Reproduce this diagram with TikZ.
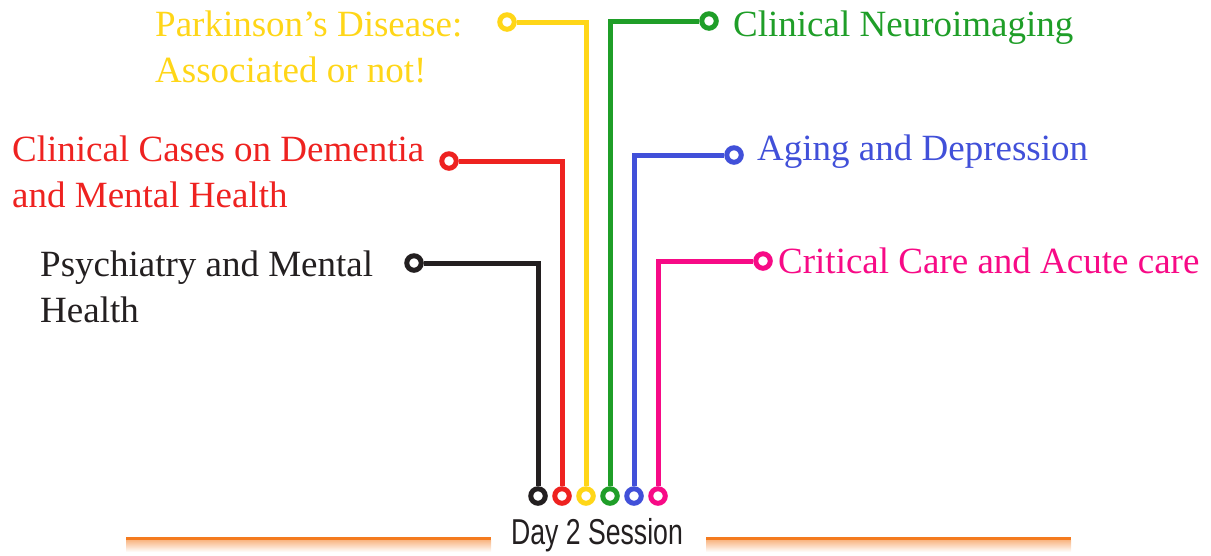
\documentclass[tikz,border=0pt]{standalone}
\usepackage{fontspec}
\setmainfont{Liberation Serif}
\newfontfamily\daysans{Liberation Sans}
\usetikzlibrary{positioning}
\definecolor{tkblack}{HTML}{231F20}
\definecolor{tkred}{HTML}{EE2220}
\definecolor{tkyellow}{HTML}{FFD618}
\definecolor{tkgreen}{HTML}{1F9E28}
\definecolor{tkblue}{HTML}{4150D9}
\definecolor{tkpink}{HTML}{F70A86}
\definecolor{barorange}{HTML}{F47A1E}
\tikzset{
  ring/.style={circle,draw=#1,fill=white,line width=5pt,minimum size=14.5pt,inner sep=0pt},
  wire/.style={draw=#1,line width=5pt},
  topic/.style={text=#1,align=left,anchor=base west,inner sep=0pt,font=\fontsize{37}{46}\selectfont},
}
\begin{document}
\begin{tikzpicture}[x=1pt,y=-1pt]
    \useasboundingbox (0,0) rectangle (1211,555);
    % bottom rings
    \node[ring=tkblack] (bk_b) at (538,496) {};
    \node[ring=tkred] (rd_b) at (562,496) {};
    \node[ring=tkyellow] (yl_b) at (586,496) {};
    \node[ring=tkgreen] (gr_b) at (610,496) {};
    \node[ring=tkblue] (bl_b) at (634,496) {};
    \node[ring=tkpink] (pk_b) at (658,496) {};
    % top rings
    \node[ring=tkblack] (bk_t) at (414,263) {};
    \node[ring=tkred] (rd_t) at (449,161) {};
    \node[ring=tkyellow] (yl_t) at (507,22) {};
    \node[ring=tkgreen] (gr_t) at (709,21) {};
    \node[ring=tkblue] (bl_t) at (734,155) {};
    \node[ring=tkpink] (pk_t) at (763,261) {};
    % topics (base = last line)
    \node[topic=tkblack] (psych) at (40,322) {Psychiatry and Mental\\Health};
    \node[topic=tkred] (dementia) at (12,207) {Clinical Cases on Dementia\\and Mental Health};
    \node[topic=tkyellow] (parkinson) at (155,82) {Parkinson’s Disease:\\Associated or not!};
    \node[topic=tkgreen] (neuro) at (733,36) {Clinical Neuroimaging};
    \node[topic=tkblue] (aging) at (757,160) {Aging and Depression};
    \node[topic=tkpink] (critical) at (778,273) {Critical Care and Acute care};
    \node[anchor=base,inner sep=0pt,text=tkblack] (day) at (597,544)
        {\daysans\fontsize{36}{36}\selectfont\scalebox{0.74}[1]{Day 2 Session}};

    \draw[wire=tkblack] (bk_b) |- (bk_t);
    \draw[wire=tkred] (rd_b) |- (rd_t);
    \draw[wire=tkyellow] (yl_b) |- (yl_t);
    \draw[wire=tkgreen] (gr_b) |- (gr_t);
    \draw[wire=tkblue] (bl_b) |- (bl_t);
    \draw[wire=tkpink] (pk_b) |- (pk_t);

    % orange bars
    \fill[barorange] (126,537) rectangle (491,540);
    \shade[top color=barorange!55,bottom color=white] (126,540) rectangle (491,552);
    \fill[barorange] (706,537) rectangle (1071,540);
    \shade[top color=barorange!55,bottom color=white] (706,540) rectangle (1071,552);
\end{tikzpicture}
\end{document}
